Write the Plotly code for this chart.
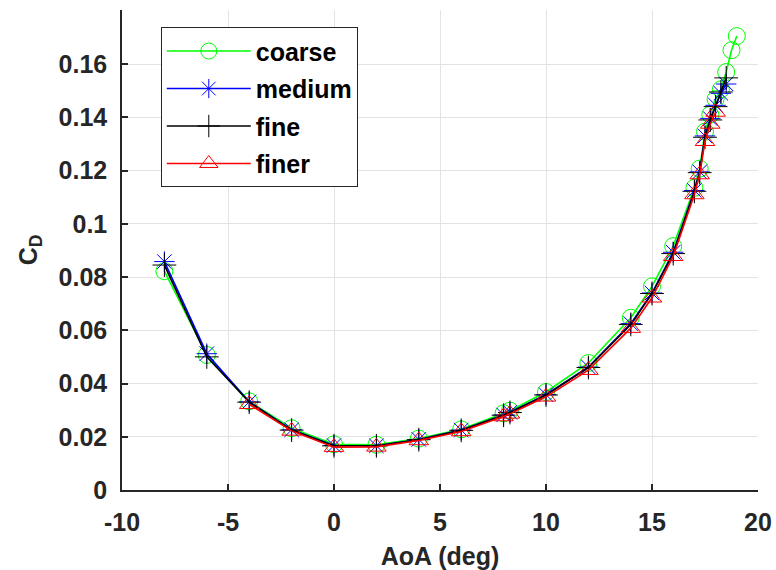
import plotly.graph_objects as go

# ---- data ----
series_names = ["coarse", "medium", "fine", "finer"]

aoa_coarse = [-8, -6, -4, -2, 0, 2, 4, 6, 8, 8.3, 10, 12, 14, 15, 16, 17, 17.25, 17.5, 17.75, 18, 18.25, 18.5, 18.75, 19]
cd_coarse = [0.0822, 0.0507, 0.0333, 0.0232, 0.0172, 0.0170, 0.0193, 0.0228, 0.0288, 0.0298, 0.0368, 0.0477,
             0.0647, 0.0765, 0.0916, 0.1135, 0.1207, 0.1346, 0.1410, 0.1468, 0.1505, 0.1570, 0.1652, 0.1705]

aoa_medium = [-8, -6, -4, -2, 0, 2, 4, 6, 8, 8.3, 10, 12, 14, 15, 16, 17, 17.25, 17.5, 17.75, 18, 18.25, 18.5]
cd_medium = [0.0858, 0.0512, 0.0331, 0.0226, 0.0167, 0.0166, 0.0190, 0.0225, 0.0282, 0.0292, 0.0358, 0.0462,
             0.0625, 0.0740, 0.0893, 0.1125, 0.1195, 0.1330, 0.1395, 0.1445, 0.1490, 0.1525]

aoa_fine = [-8, -6, -4, -2, 0, 2, 4, 6, 8, 8.3, 10, 12, 14, 15, 16, 17, 17.25, 17.5, 17.75, 18, 18.25, 18.5]
cd_fine = [0.0845, 0.0500, 0.0330, 0.0225, 0.0166, 0.0166, 0.0189, 0.0224, 0.0281, 0.0291, 0.0357, 0.0460,
           0.0622, 0.0738, 0.0888, 0.1122, 0.1192, 0.1325, 0.1390, 0.1440, 0.1495, 0.1548]

aoa_finer = [-4, -2, 0, 2, 4, 6, 8, 8.3, 10, 12, 14, 15, 16, 17, 17.25, 17.5, 17.75, 18]
cd_finer = [0.0322, 0.0222, 0.0161, 0.0162, 0.0186, 0.0220, 0.0276, 0.0286, 0.0350, 0.0450,
            0.0608, 0.0722, 0.0878, 0.1110, 0.1185, 0.1310, 0.1375, 0.1420]

x_ticks = [-10, -5, 0, 5, 10, 15, 20]
y_ticks = [0, 0.02, 0.04, 0.06, 0.08, 0.1, 0.12, 0.14, 0.16]
y_tick_labels = ["0", "0.02", "0.04", "0.06", "0.08", "0.1", "0.12", "0.14", "0.16"]

# ---- styles ----
colors = ["#00FF00", "#0000FF", "#000000", "#FF0000"]
symbols = ["circle-open", "asterisk-open", "cross-thin-open", "triangle-up-open"]
xs = [aoa_coarse, aoa_medium, aoa_fine, aoa_finer]
ys = [cd_coarse, cd_medium, cd_fine, cd_finer]

FONT = "Liberation Sans, Arial, Helvetica, sans-serif"
TXT = "#262626"

fig = go.Figure()
for name, x, y, c, s in zip(series_names, xs, ys, colors, symbols):
    fig.add_trace(go.Scatter(
        x=x, y=y, name=name, mode="lines+markers",
        line=dict(color=c, width=1.6),
        marker=dict(symbol=s, size=17, color=c, line=dict(color=c, width=1)),
        legendgroup=name,
    ))

axis_common = dict(
    showline=True, linecolor=TXT, linewidth=1.5,
    ticks="inside", ticklen=6, tickcolor=TXT, tickwidth=1.5,
    showgrid=True, gridcolor="#e3e3e3", gridwidth=1,
    zeroline=False, mirror=False, automargin=False,
    tickfont=dict(family=FONT, size=25, color=TXT, weight="bold"),
)

fig.update_layout(
    width=776, height=570,
    margin=dict(l=122, r=18, t=10, b=80),
    paper_bgcolor="white", plot_bgcolor="white",
    showlegend=True,
    legend=dict(
        x=0.061, y=0.964, xanchor="left", yanchor="top",
        bordercolor=TXT, borderwidth=1, bgcolor="white",
        font=dict(family=FONT, size=25, color="#000000", weight="bold"),
        tracegroupgap=2, itemwidth=84,
    ),
    xaxis=dict(
        range=[-10, 20], tickvals=x_ticks, ticktext=[str(v) for v in x_ticks],
        title=dict(text="AoA (deg)", font=dict(family=FONT, size=25, color=TXT, weight="bold"), standoff=14),
        ticklabelstandoff=9,
        **axis_common,
    ),
    yaxis=dict(
        range=[0, 0.1803], tickvals=y_ticks, ticktext=y_tick_labels,
        title=dict(text="C<sub>D</sub>", font=dict(family=FONT, size=25, color=TXT, weight="bold"), standoff=14),
        ticklabelstandoff=8,
        **axis_common,
    ),
)

fig.write_html("out.html")
